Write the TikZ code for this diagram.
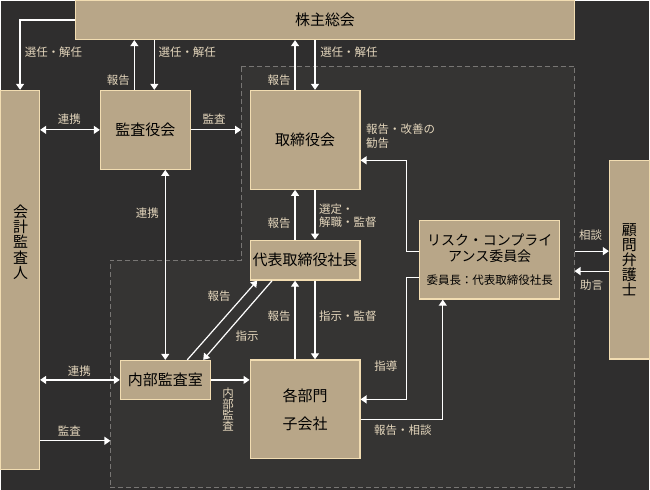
\documentclass[tikz,border=0pt]{standalone}
\usepackage{fontspec}
\setmainfont{Noto Sans CJK JP}
\usetikzlibrary{arrows.meta,positioning,calc}

\definecolor{bgdark}{HTML}{2F2E2E}
\definecolor{bginner}{HTML}{353433}
\definecolor{boxfill}{HTML}{B8A688}
\definecolor{boxline}{HTML}{F2DDB2}
\definecolor{labelc}{HTML}{E4D6BC}
\definecolor{dashc}{HTML}{787674}

\begin{document}
\begin{tikzpicture}[
    x=1pt, y=-1pt,
    unit/.style={draw=boxline, fill=boxfill, line width=1.2pt, inner sep=0pt,
                 text=black, font=\fontsize{15}{17}\selectfont, align=center},
    lbl/.style={text=labelc, font=\fontsize{11.5}{13.5}\selectfont, inner sep=0pt},
    arr/.style={draw=white, line width=1.2pt, -{Triangle[width=8pt,length=6pt]}},
    arrboth/.style={draw=white, line width=1.2pt, {Triangle[width=8pt,length=6pt]}-{Triangle[width=8pt,length=6pt]}}
]

% Background and dashed area
\fill[bgdark] (0,0) rectangle (650,490);
\draw[fill=bginner, draw=dashc, line width=0.9pt, dash pattern=on 5pt off 3pt]
    (241,66) -- (575,66) -- (575,488) -- (110,488) -- (110,260) -- (241,260) -- cycle;

% Free ends on the dashed area
\coordinate (areatop) at (241,129.5);
\coordinate (areabot) at (110,441);
\coordinate (arearight) at (575,251);
\coordinate (arearight2) at (575,271);

% Units
\node[unit, minimum width=500, minimum height=39] (kabunushi) at (325,19.5) {株主総会};
\node[unit, minimum width=39, minimum height=380] (kaikei) at (19.5,280) {};
\node[text=black, font=\fontsize{15}{15.4}\selectfont, align=center, inner sep=0pt] (kaikeitext) at (20,242) {会\\計\\監\\査\\人};
\node[unit, minimum width=90, minimum height=79] (kansa) at (145,129.5) {監査役会};
\node[unit, minimum width=110, minimum height=99] (torishimari) at (305,139.5) {取締役会};
\node[unit, minimum width=110, minimum height=40] (shacho) at (305,260) {代表取締役社長};
\node[unit, minimum width=90, minimum height=39] (naibu) at (165,380) {内部監査室};
\node[unit, minimum width=110, minimum height=99, font=\fontsize{15}{28}\selectfont] (bumon) at (305,409.5) {各部門\\子会社};
\node[unit, minimum width=140, minimum height=79, font=\fontsize{14}{16}\selectfont] (risk) at (490,259.5)
    {リスク・コンプライ\\アンス委員会\\[7pt]{\fontsize{11.5}{13}\selectfont 委員長：代表取締役社長}};
\node[unit, minimum width=40, minimum height=199, font=\fontsize{15}{15.2}\selectfont] (bengoshi) at (630,259.5) {顧\\問\\弁\\護\\士};

% Shareholders meeting
\draw[arr] (kabunushi.west) -| (kaikei.north);
\node[lbl] (l1) at (53,52) {選任・解任};
\draw[arr] ([xshift=-11pt]kansa.north) -- ([xshift=-11pt]kansa.north |- kabunushi.south);
\node[lbl] (l2) at (118,80) {報告};
\draw[arr] ([xshift=9pt]kansa.north |- kabunushi.south) -- ([xshift=9pt]kansa.north);
\node[lbl] (l3) at (187,52) {選任・解任};
\draw[arr] ([xshift=-10pt]torishimari.north) -- ([xshift=-10pt]torishimari.north |- kabunushi.south);
\node[lbl] (l4) at (279,80) {報告};
\draw[arr] ([xshift=10pt]torishimari.north |- kabunushi.south) -- ([xshift=10pt]torishimari.north);
\node[lbl] (l5) at (349,52) {選任・解任};

% Audit board
\draw[arrboth] (kaikei.east |- kansa.west) -- (kansa.west);
\node[lbl] (l6) at (69,119) {連携};
\draw[arr] (kansa.east) -- (areatop);
\node[lbl] (l7) at (214,119) {監査};
\draw[arrboth] (naibu.north |- kansa.south) -- (naibu.north);
\node[lbl] (l8) at (147,213) {連携};

% Board and president
\draw[arr] ([xshift=-10pt]shacho.north) -- ([xshift=-10pt]shacho.north |- torishimari.south);
\node[lbl] (l9) at (279,223) {報告};
\draw[arr] ([xshift=10pt]shacho.north |- torishimari.south) -- ([xshift=10pt]shacho.north);
\node[lbl, anchor=west, align=left, font=\fontsize{11.5}{13}\selectfont] (l10) at (319,215.5) {選定・\\解職・監督};
\draw[arr] ([xshift=-10pt]bumon.north) -- ([xshift=-10pt]bumon.north |- shacho.south);
\node[lbl] (l11) at (279,316) {報告};
\draw[arr] ([xshift=10pt]bumon.north |- shacho.south) -- ([xshift=10pt]bumon.north);
\node[lbl, anchor=west] (l12) at (319,316) {指示・監督};

% Internal audit
\draw[arr] ([xshift=22pt]naibu.north) -- ([xshift=-48pt]shacho.south);
\node[lbl] (l13) at (219,296) {報告};
\draw[arr] ([xshift=-33pt]shacho.south) -- ([xshift=38pt]naibu.north);
\node[lbl] (l14) at (247,336) {指示};
\draw[arrboth] (kaikei.east |- naibu.west) -- (naibu.west);
\node[lbl] (l15) at (79,371) {連携};
\draw[arr] (kaikei.east |- areabot) -- (areabot);
\node[lbl] (l16) at (69,431) {監査};
\draw[arr] (naibu.east) -- (naibu.east -| bumon.west);
\node[lbl, align=center, font=\fontsize{11.5}{11}\selectfont] (l17) at (228,410) {内\\部\\監\\査};

% Risk and compliance committee
\draw[arr] ([yshift=8pt]risk.west) -- ++(-13,0) |- ([yshift=-20.5pt]torishimari.east);
\node[lbl, anchor=west, align=left, font=\fontsize{11.5}{14}\selectfont] (l18) at (366,136) {報告・改善の\\勧告};
\draw[arr] ([yshift=-18pt]risk.west) -- ++(-13,0) |- ([yshift=10pt]bumon.east);
\node[lbl] (l19) at (386,366) {指導};
\draw[arr] ([yshift=-10pt]bumon.east) -| ([xshift=-47pt]risk.south);
\node[lbl] (l20) at (403,430) {報告・相談};

% Legal counsel
\draw[arr] (arearight) -- (arearight -| bengoshi.west);
\node[lbl] (l21) at (591,235) {相談};
\draw[arr] (arearight2 -| bengoshi.west) -- (arearight2);
\node[lbl] (l22) at (592,285) {助言};

\end{tikzpicture}
\end{document}
